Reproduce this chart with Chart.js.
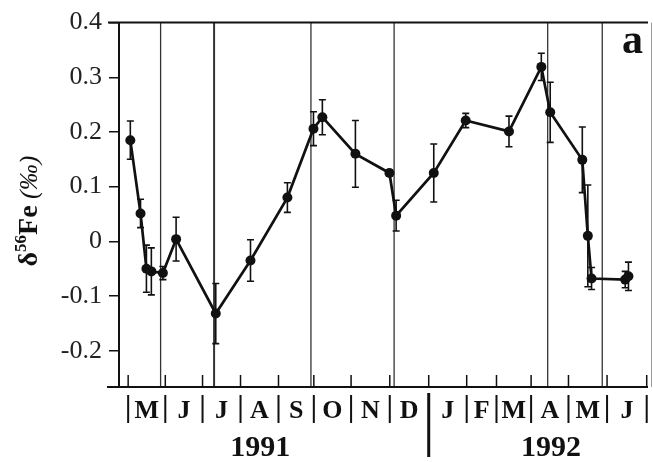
<!DOCTYPE html>
<html>
<head>
<meta charset="utf-8">
<script src="https://cdn.jsdelivr.net/npm/chart.js@4.4.1/dist/chart.umd.min.js"></script>
<style>
    html, body { margin: 0; padding: 0; background: #fff; }
    #wrap { width: 653px; height: 462px; }
</style>
</head>
<body>
<div id="wrap"><canvas id="chart"></canvas></div>
<script>
// x positions are days counted from 1 Jan 1991
var sampleDays = [122, 130.5, 135.4, 139.5, 149.1, 160.1, 193.1, 222, 252.7, 274.4, 281.8, 309.3,
    337.6, 343.2, 374.5, 401.1, 437.1, 464, 471.4, 498.1, 502.7, 505.8, 533.8, 536.5];
var d56Fe = [0.185, 0.051, -0.050, -0.055, -0.058, 0.004, -0.132, -0.035, 0.080, 0.206, 0.227, 0.160,
    0.125, 0.047, 0.125, 0.221, 0.201, 0.319, 0.236, 0.149, 0.010, -0.068, -0.070, -0.064];
var errors = [0.035, 0.026, 0.043, 0.043, 0.012, 0.040, 0.055, 0.038, 0.027, 0.031, 0.032, 0.061,
    0.006, 0.028, 0.053, 0.013, 0.028, 0.025, 0.055, 0.060, 0.093, 0.020, 0.015, 0.026];
var yTicks = [-0.2, -0.1, 0, 0.1, 0.2, 0.3, 0.4];
var monthLabels = ['M', 'J', 'J', 'A', 'S', 'O', 'N', 'D', 'J', 'F', 'M', 'A', 'M', 'J'];
var monthEdges = [120.2, 151.1, 182.1, 213.7, 245.3, 274.7, 305.7, 337.9, 370.3, 401.9, 426.7,
    455.5, 486.6, 518.7, 551.7];
var yearLabels = ['1991', '1992'];
var yearCenters = [230.2, 472];
var yearBreak = 370.3;
var periodLines = [147.2, 191.7, 272.3, 341.5, 469.3, 514.7];
var panelLabel = 'a';

var serif = '"Liberation Serif", "Times New Roman", serif';

var decor = {
    id: 'decor',
    beforeDatasetsDraw: function (chart) {
        var ctx = chart.ctx, x = chart.scales.x, y = chart.scales.y, a = chart.chartArea;
        ctx.save();
        ctx.strokeStyle = '#333';
        periodLines.forEach(function (d, i) {
            ctx.lineWidth = i === 1 ? 2 : 1.3;
            var px = x.getPixelForValue(d);
            ctx.beginPath();
            ctx.moveTo(px, a.top);
            ctx.lineTo(px, a.bottom);
            ctx.stroke();
        });
        // faint right edge
        ctx.strokeStyle = '#999';
        ctx.lineWidth = 1;
        ctx.beginPath();
        ctx.moveTo(651.5, a.top);
        ctx.lineTo(651.5, a.bottom);
        ctx.stroke();

        // error bars
        ctx.strokeStyle = '#111';
        ctx.lineWidth = 1.6;
        sampleDays.forEach(function (d, i) {
            var px = x.getPixelForValue(d);
            var top = y.getPixelForValue(d56Fe[i] + errors[i]);
            var bot = y.getPixelForValue(d56Fe[i] - errors[i]);
            ctx.beginPath();
            ctx.moveTo(px, top); ctx.lineTo(px, bot);
            ctx.moveTo(px - 3.5, top); ctx.lineTo(px + 3.5, top);
            ctx.moveTo(px - 3.5, bot); ctx.lineTo(px + 3.5, bot);
            ctx.stroke();
        });
        ctx.restore();
    },
    afterDraw: function (chart) {
        var ctx = chart.ctx, x = chart.scales.x, y = chart.scales.y, a = chart.chartArea;
        ctx.save();
        ctx.strokeStyle = '#111';
        ctx.lineWidth = 2;
        ctx.beginPath();
        ctx.moveTo(a.left, a.top); ctx.lineTo(a.left, a.bottom);
        ctx.moveTo(a.left - 11, a.top); ctx.lineTo(a.right, a.top);
        ctx.moveTo(a.left - 12, a.bottom); ctx.lineTo(a.right, a.bottom);
        ctx.stroke();

        // month ticks pointing up into the plot
        ctx.lineWidth = 1.5;
        ctx.beginPath();
        monthEdges.forEach(function (d) {
            var px = x.getPixelForValue(d);
            ctx.moveTo(px, a.bottom);
            ctx.lineTo(px, a.bottom - 12);
        });
        ctx.stroke();

        // month letters and separators
        ctx.fillStyle = '#111';
        ctx.font = 'bold 26px ' + serif;
        ctx.textAlign = 'center';
        ctx.textBaseline = 'alphabetic';
        monthLabels.forEach(function (m, i) {
            var cx = (x.getPixelForValue(monthEdges[i]) + x.getPixelForValue(monthEdges[i + 1])) / 2;
            ctx.fillText(m, cx, 418);
        });
        ctx.lineWidth = 2;
        ctx.beginPath();
        monthEdges.forEach(function (d) {
            if (d === yearBreak) return;
            var px = x.getPixelForValue(d);
            ctx.moveTo(px, 395);
            ctx.lineTo(px, 423);
        });
        ctx.stroke();
        ctx.lineWidth = 3;
        ctx.beginPath();
        ctx.moveTo(x.getPixelForValue(yearBreak), 393);
        ctx.lineTo(x.getPixelForValue(yearBreak), 457);
        ctx.stroke();

        ctx.font = 'bold 30px ' + serif;
        yearLabels.forEach(function (t, i) {
            ctx.fillText(t, x.getPixelForValue(yearCenters[i]), 456);
        });

        // panel letter
        ctx.font = 'bold 42px ' + serif;
        ctx.textAlign = 'left';
        ctx.fillText(panelLabel, 622, 53);

        // y axis title: delta 56 Fe (permil)
        var parts = [
            { t: '\u03b4', f: 'bold 28px ' + serif, dy: 0 },
            { t: '56', f: 'bold 17px ' + serif, dy: -11 },
            { t: 'Fe', f: 'bold 28px ' + serif, dy: 0 },
            { t: ' (\u2030)', f: 'italic 26px ' + serif, dy: 0 }
        ];
        var total = 0;
        parts.forEach(function (p) { ctx.font = p.f; p.w = ctx.measureText(p.t).width; total += p.w; });
        ctx.translate(37, 211);
        ctx.rotate(-Math.PI / 2);
        var pos = -total / 2;
        parts.forEach(function (p) {
            ctx.font = p.f;
            ctx.fillText(p.t, pos, p.dy);
            pos += p.w;
        });
        ctx.restore();
    }
};

var ctx = document.getElementById('chart');
var chart = new Chart(ctx, {
    type: 'scatter',
    data: {
        datasets: [{
            data: sampleDays.map(function (d, i) { return { x: d, y: d56Fe[i] }; }),
            showLine: true,
            borderColor: '#111',
            borderWidth: 2.7,
            backgroundColor: '#111',
            pointRadius: 5,
            pointBorderWidth: 0,
            pointBackgroundColor: '#111'
        }]
    },
    options: {
        responsive: true,
        maintainAspectRatio: false,
        animation: false,
        devicePixelRatio: 1,
        layout: { padding: { top: 18, right: 0, left: 0, bottom: 0 } },
        plugins: { legend: { display: false }, tooltip: { enabled: false } },
        scales: {
            x: {
                type: 'linear',
                min: 112.58,
                max: 552.77,
                ticks: { display: false },
                grid: { display: false },
                border: { display: false },
                afterFit: function (scale) { scale.height = 75; }
            },
            y: {
                type: 'linear',
                min: -0.2664,
                max: 0.4,
                afterBuildTicks: function (scale) {
                    scale.ticks = yTicks.map(function (v) { return { value: v }; });
                },
                ticks: {
                    padding: 7,
                    color: '#222',
                    font: { family: serif, size: 26 },
                    callback: function (v) { return Math.abs(v) < 1e-9 ? '0' : v.toFixed(1); }
                },
                grid: {
                    drawOnChartArea: false,
                    drawTicks: true,
                    tickLength: 10,
                    color: '#111',
                    lineWidth: 1.5
                },
                border: { display: false },
                afterFit: function (scale) { scale.width = 119; }
            }
        }
    },
    plugins: [decor]
});
</script>
</body>
</html>
